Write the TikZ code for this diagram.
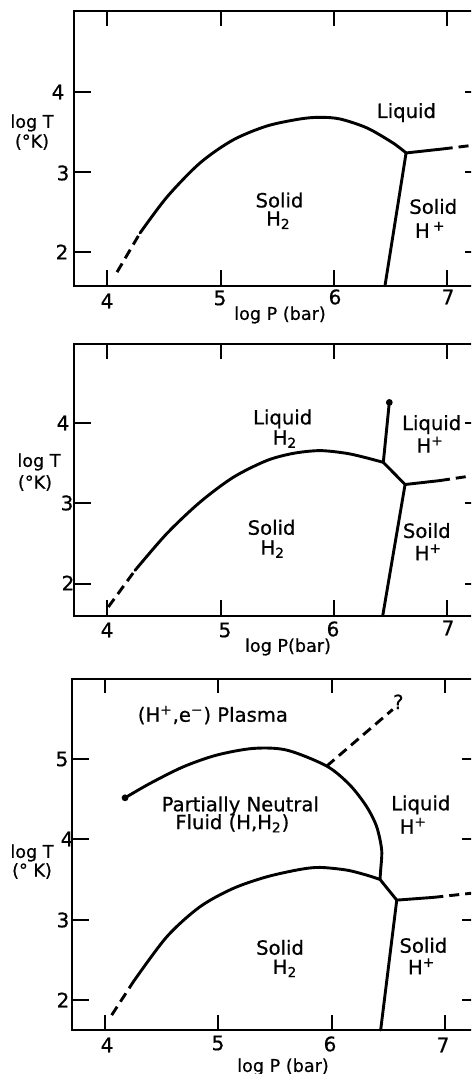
\documentclass[tikz,border=0pt]{standalone}
\usepackage{fontspec}
\setmainfont{DejaVu Sans}[FakeBold=0.7]
\begin{document}
\begin{tikzpicture}[x=0.5pt,y=-0.5pt,
  frame/.style={line width=1pt},
  tickline/.style={line width=1pt},
  curve/.style={line width=1.45pt, line join=round, line cap=round},
  dcurve/.style={line width=1.45pt, dash pattern=on 5pt off 3pt},
  lab/.style={font=\fontsize{9.8}{10}\selectfont, inner sep=0pt},
  num/.style={font=\fontsize{10}{10}\selectfont, inner sep=0pt},
  axl/.style={font=\fontsize{8.8}{10}\selectfont, inner sep=0pt},
  dot/.style={circle, fill, inner sep=0pt, minimum size=3.4pt}]
\useasboundingbox (0,0) rectangle (471,1074);
\clip (0,0) rectangle (471,1074);

% ---------------- Panel 1 ----------------
\begin{scope}[shift={(-345.9,412.9)}, x=56.65pt, y=40.15pt]
  \draw[frame] (3.706,1.585) rectangle (7.285,5.0);
  \foreach \p in {4,5,6,7} {
    \draw[tickline] (\p,5.0) -- ++(0,-0.18);
    \draw[tickline] (\p,1.585) -- ++(0,0.19);
  }
  \foreach \t in {2,3,4} {
    \draw[tickline] (3.706,\t) -- ++(0.15,0);
    \draw[tickline] (7.285,\t) -- ++(-0.13,0);
  }
  \coordinate (a1) at (4.086,1.753);
  \coordinate (s1) at (4.289,2.24);
  \coordinate (tp1) at (6.637,3.237);
  \coordinate (bt1) at (6.451,1.585);
  \coordinate (r1) at (6.96,3.287);
  \coordinate (re1) at (7.3,3.345);
  \draw[dcurve] (a1) -- (s1);
  \draw[curve] plot[smooth] coordinates {(4.289,2.24) (4.527,2.689) (4.818,3.112) (5.109,3.398) (5.409,3.573) (5.70,3.66) (5.877,3.681) (6.054,3.66) (6.293,3.548) (6.522,3.361) (6.637,3.237)};
  \draw[curve] (tp1) -- (bt1);
  \draw[curve] (tp1) -- (r1);
  \draw[dcurve] (r1) -- (re1);
  \node[lab] (liq1) at (6.64,3.74) {Liquid};
  \node[lab] (sol1a) at (5.52,2.65) {Solid};
  \node[lab] (sol1b) at (5.51,2.40) {H\textsubscript{2}};
  \node[lab] (sol1c) at (6.877,2.57) {Solid};
  \node[lab] (sol1d) at (6.85,2.27) {H\,\smash{\textsuperscript{+}}};
\end{scope}
\node[axl] (lt1) at (32,123) {log T};
\node[axl] (lk1) at (32,142) {(°K)};
\node[axl] (lp1) at (280,315) {log P (bar)};
\node[num] (y14) at (58,92) {4};
\node[num] (y13) at (63,173) {3};
\node[num] (y12) at (62,252) {2};
\node[num] (x14) at (107,301) {4};
\node[num] (x15) at (220,298) {5};
\node[num] (x16) at (335,297) {6};
\node[num] (x17) at (448,297) {7};

% ---------------- Panel 2 ----------------
\begin{scope}[shift={(-345.9,744.2)}, x=56.65pt, y=40.15pt]
  \draw[frame] (3.706,1.6) rectangle (7.285,4.98);
  \foreach \p in {4,5,6,7} {
    \draw[tickline] (\p,4.98) -- ++(0,-0.18);
    \draw[tickline] (\p,1.6) -- ++(0,0.19);
  }
  \foreach \t in {2,3,4} {
    \draw[tickline] (3.706,\t) -- ++(0.15,0);
    \draw[tickline] (7.285,\t) -- ++(-0.13,0);
  }
  \coordinate (a2) at (4.009,1.709);
  \coordinate (s2) at (4.245,2.165);
  \coordinate (q2) at (6.436,3.51);
  \coordinate (tp2) at (6.628,3.234);
  \coordinate (bt2) at (6.431,1.6);
  \coordinate (r2) at (6.936,3.283);
  \coordinate (re2) at (7.3,3.36);
  \node[dot] (cp2) at (6.489,4.256) {};
  \draw[dcurve] (a2) -- (s2);
  \draw[curve] plot[smooth] coordinates {(4.245,2.165) (4.524,2.621) (4.818,3.014) (5.112,3.324) (5.407,3.532) (5.642,3.622) (5.877,3.656) (6.113,3.622) (6.29,3.565) (6.436,3.51)};
  \draw[curve] (q2) -- (cp2.center);
  \draw[curve] (q2) -- (tp2) -- (bt2);
  \draw[curve] (tp2) -- (r2);
  \draw[dcurve] (r2) -- (re2);
  \node[lab] (liq2a) at (5.548,4.05) {Liquid};
  \node[lab] (liq2b) at (5.568,3.80) {H\textsubscript{2}};
  \node[lab] (sol2a) at (5.45,2.70) {Solid};
  \node[lab] (sol2b) at (5.46,2.43) {H\textsubscript{2}};
  \node[lab] (liq2c) at (6.863,3.98) {Liquid};
  \node[lab] (liq2d) at (6.85,3.72) {H\smash{\textsuperscript{+}}};
  \node[lab] (sol2c) at (6.82,2.66) {Soild};
  \node[lab] (sol2d) at (6.834,2.38) {H\smash{\textsuperscript{+}}};
\end{scope}
\node[axl] (lt2) at (39,462) {log T};
\node[axl] (lk2) at (35,483) {(°K)};
\node[axl] (lp2) at (288,647) {log P(bar)};
\node[num] (y24) at (63,423) {4};
\node[num] (y23) at (67,503) {3};
\node[num] (y22) at (68,583) {2};
\node[num] (x24) at (107,630) {4};
\node[num] (x25) at (225,630) {5};
\node[num] (x26) at (333,629) {6};
\node[num] (x27) at (448,628) {7};

% ---------------- Panel 3 ----------------
\begin{scope}[shift={(-348.2,1160.6)}, x=56.65pt, y=40.15pt]
  \draw[frame] (3.711,1.626) rectangle (7.285,6.0);
  \foreach \p in {4,5,6,7} {
    \draw[tickline] (\p,6.0) -- ++(0,-0.18);
    \draw[tickline] (\p,1.626) -- ++(0,0.19);
  }
  \foreach \t in {2,3,4,5} {
    \draw[tickline] (3.711,\t) -- ++(0.15,0);
    \draw[tickline] (7.285,\t) -- ++(-0.13,0);
  }
  \coordinate (a3) at (4.059,1.812);
  \coordinate (s3) at (4.25,2.227);
  \coordinate (q3) at (6.427,3.502);
  \coordinate (tp3) at (6.575,3.244);
  \coordinate (bt3) at (6.433,1.626);
  \coordinate (r3) at (6.898,3.278);
  \coordinate (re3) at (7.3,3.34);
  \coordinate (u3) at (5.957,4.913);
  \node[dot] (cp3) at (4.177,4.518) {};
  \draw[dcurve] (a3) -- (s3);
  \draw[curve] plot[smooth] coordinates {(4.25,2.227) (4.545,2.787) (4.838,3.161) (5.132,3.39) (5.427,3.534) (5.721,3.626) (5.898,3.651) (6.133,3.618) (6.31,3.555) (6.427,3.502)};
  \draw[curve] plot[smooth] coordinates {(4.177,4.518) (4.397,4.697) (4.691,4.904) (4.986,5.05) (5.309,5.133) (5.604,5.112) (5.957,4.913) (6.162,4.676) (6.31,4.406) (6.398,4.157) (6.442,3.867) (6.433,3.618) (6.427,3.502)};
  \draw[curve] (q3) -- (tp3) -- (bt3);
  \draw[curve] (tp3) -- (r3);
  \draw[dcurve] (r3) -- (re3);
  \node[lab] (qm3) at (6.589,5.714) {?};
  \draw[dcurve] (u3) -- (qm3.south west);
  \node[lab] (pl3) at (4.952,5.548) {(H\textsuperscript{+},e\textsuperscript{−}) Plasma};
  \node[lab] (pn3a) at (5.194,4.418) {Partially Neutral};
  \node[lab] (pn3b) at (5.124,4.2) {Fluid (H,H\textsubscript{2})};
  \node[lab] (liq3a) at (6.787,4.43) {Liquid};
  \node[lab] (liq3b) at (6.721,4.16) {H\smash{\textsuperscript{+}}};
  \node[lab] (sol3a) at (5.545,2.655) {Solid};
  \node[lab] (sol3b) at (5.589,2.394) {H\textsubscript{2}};
  \node[lab] (sol3c) at (6.81,2.68) {Solid};
  \node[lab] (sol3d) at (6.795,2.41) {H\smash{\textsuperscript{+}}};
\end{scope}
\node[axl] (lt3) at (32,853) {log T};
\node[axl] (lk3) at (32,871) {(° K)};
\node[axl] (lp3) at (283,1067) {log P (bar)};
\node[num] (y35) at (62,759) {5};
\node[num] (y34) at (67,839) {4};
\node[num] (y33) at (63,920) {3};
\node[num] (y32) at (63,1000) {2};
\node[num] (x34) at (107,1045) {4};
\node[num] (x35) at (218,1043) {5};
\node[num] (x36) at (330,1044) {6};
\node[num] (x37) at (443,1045) {7};
\end{tikzpicture}
\end{document}
